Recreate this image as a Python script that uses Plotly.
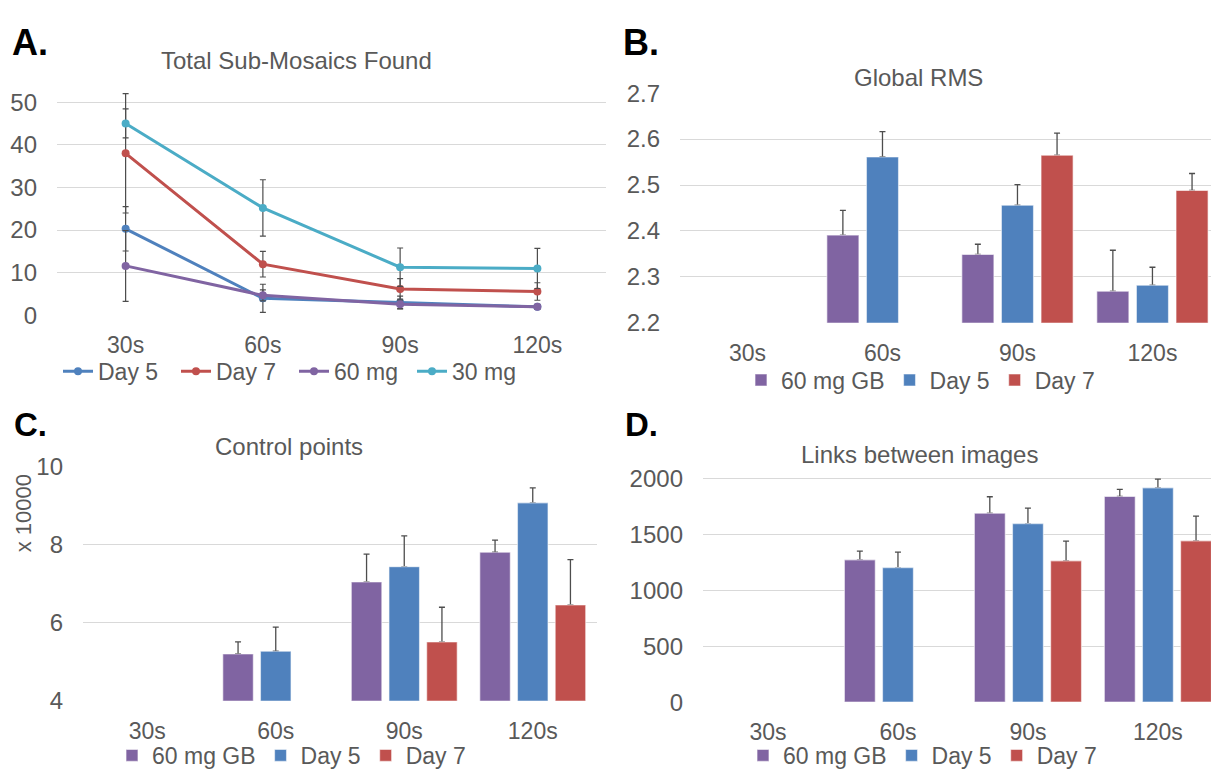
import plotly.graph_objects as go

categories = ["30s", "60s", "90s", "120s"]

# Panel A: Total Sub-Mosaics Found (lines)
a_day5 = [20.3, 4.0, 3.0, 2.0]
a_day5_err = [5.2, 3.3, 1.5, 0.5]
a_day7 = [38.0, 12.0, 6.2, 5.6]
a_day7_err = [14.0, 3.0, 2.4, 2.05]
a_60mg = [11.6, 4.7, 2.6, 2.0]
a_60mg_err = [8.3, 1.3, 1.0, 0.5]
a_30mg = [45.0, 25.2, 11.3, 11.0]
a_30mg_err = [3.4, 6.6, 4.5, 4.7]

# Panel B: Global RMS
b_60mg = [0, 2.391, 2.349, 2.269]
b_60mg_err = [None, 0.054, 0.022, 0.089]
b_day5 = [0, 2.561, 2.456, 2.282]
b_day5_err = [None, 0.055, 0.045, 0.039]
b_day7 = [0, 0, 2.565, 2.488]
b_day7_err = [None, None, 0.048, 0.037]

# Panel C: Control points (x 10000)
c_60mg = [0, 5.20, 7.05, 7.81]
c_60mg_err = [None, 0.31, 0.71, 0.31]
c_day5 = [0, 5.27, 7.44, 9.08]
c_day5_err = [None, 0.62, 0.79, 0.38]
c_day7 = [0, 0, 5.51, 6.46]
c_day7_err = [None, None, 0.89, 1.16]

# Panel D: Links between images (no data at 30s, none for Day 7 at 60s)
d_60mg = [None, 1274, 1692, 1841]
d_60mg_err = [None, 78, 147, 63]
d_day5 = [None, 1205, 1599, 1919]
d_day5_err = [None, 138, 138, 78]
d_day7 = [None, None, 1265, 1444]
d_day7_err = [None, None, 176, 222]

# The page body has an 8px margin; lay the figure out so it lands on the window.
OFF = 8
W, H = 1219 - OFF, 782 - OFF
FONT = "Liberation Sans, Arial, sans-serif"
TXT = "#595959"
GRID = "#D9D9D9"
ERR = "#4D4D4D"

C_BLUE = "#4F81BD"
C_RED = "#C0504D"
C_PURPLE = "#8064A2"
C_CYAN = "#4BACC6"


def fx(p):
    return (p - OFF) / W


def fy(p):
    return 1 - (p - OFF) / H


fig = go.Figure()

# ---- Panel A lines
for name, vals, err, col in [
    ("Day 5", a_day5, a_day5_err, C_BLUE),
    ("Day 7", a_day7, a_day7_err, C_RED),
    ("60 mg", a_60mg, a_60mg_err, C_PURPLE),
    ("30 mg", a_30mg, a_30mg_err, C_CYAN),
]:
    fig.add_trace(go.Scatter(
        x=categories, y=vals, name=name, mode="lines+markers",
        line=dict(color=col, width=3), marker=dict(color=col, size=8),
        error_y=dict(type="data", array=err, visible=True, color=ERR,
                     thickness=1.2, width=3),
        xaxis="x", yaxis="y", legend="legend", cliponaxis=False,
    ))


def add_bars(vals_list, xa, ya, leg):
    for name, vals, err, col in vals_list:
        # invisible carrier holding the "plus" error bar; the coloured bar of the
        # same offset group is drawn over it so the lower cap is hidden
        fig.add_trace(go.Bar(
            x=categories, y=vals, name=name, showlegend=False, hoverinfo="skip",
            marker=dict(color="rgba(0,0,0,0)", line=dict(width=0)),
            error_y=dict(type="data", symmetric=False, array=err,
                         arrayminus=[0 if e is not None else None for e in err],
                         visible=True, color=ERR, thickness=1.3, width=3),
            xaxis=xa, yaxis=ya, legend=leg, offsetgroup=name,
        ))
    for name, vals, err, col in vals_list:
        fig.add_trace(go.Bar(
            x=categories, y=vals, name=name,
            marker=dict(color=col, line=dict(color="rgba(255,255,255,0.55)", width=1.2)),
            xaxis=xa, yaxis=ya, legend=leg, offsetgroup=name,
        ))


add_bars([("60 mg GB", b_60mg, b_60mg_err, C_PURPLE),
          ("Day 5", b_day5, b_day5_err, C_BLUE),
          ("Day 7", b_day7, b_day7_err, C_RED)], "x2", "y2", "legend2")
add_bars([("60 mg GB", c_60mg, c_60mg_err, C_PURPLE),
          ("Day 5", c_day5, c_day5_err, C_BLUE),
          ("Day 7", c_day7, c_day7_err, C_RED)], "x3", "y3", "legend3")
add_bars([("60 mg GB", d_60mg, d_60mg_err, C_PURPLE),
          ("Day 5", d_day5, d_day5_err, C_BLUE),
          ("Day 7", d_day7, d_day7_err, C_RED)], "x4", "y4", "legend4")

xtickfont = dict(family=FONT, size=23, color=TXT)
ytickfont = dict(family=FONT, size=24, color=TXT)


def xax(l, r, anchor, rng):
    return dict(domain=[fx(l), min(1.0, fx(r))], anchor=anchor, type="category",
                categoryorder="array", categoryarray=categories,
                range=rng, showgrid=False, zeroline=False, showline=False,
                ticks="", tickfont=xtickfont, ticklabelstandoff=14,
                fixedrange=True)


def yax(top, bottom, anchor, rng, tv):
    return dict(domain=[fy(bottom), fy(top)], anchor=anchor, range=rng,
                tickvals=tv, showgrid=True, gridcolor=GRID, gridwidth=1,
                zeroline=False, showline=False, ticks="", tickfont=ytickfont,
                ticklabelstandoff=19, fixedrange=True)


a_unit = (312 - 91) / 50.0
legfont = dict(family=FONT, size=23, color=TXT)
fig.update_layout(
    width=W, height=H,
    margin=dict(l=0, r=0, t=0, b=0),
    paper_bgcolor="white", plot_bgcolor="white",
    barmode="group", bargap=0.12, bargroupgap=0.19,
    font=dict(family=FONT, size=23, color=TXT),
    xaxis=xax(57, 606, "y", [-0.5, 3.5]),
    yaxis=yax(312 - 53 * a_unit, 312, "x", [0, 53], [0, 10, 20, 30, 40, 50]),
    xaxis2=xax(680, 1221, "y2", [-0.5, 3.493]),
    yaxis2=yax(81.7, 319.7, "x2", [2.2, 2.7], [2.2, 2.3, 2.4, 2.5, 2.6, 2.7]),
    xaxis3=xax(83, 597, "y3", [-0.5, 3.5]),
    yaxis3=yax(469, 711.3, "x3", [4, 10], [4, 6, 8, 10]),
    xaxis4=xax(703, 1223, "y4", [-0.5, 3.47]),
    yaxis4=yax(480.1, 712.7, "x4", [0, 2010], [0, 500, 1000, 1500, 2000]),
    legend=dict(orientation="h", x=fx(58), y=fy(370), xanchor="left", yanchor="middle",
                font=legfont, entrywidth=73, entrywidthmode="pixels",
                bgcolor="rgba(0,0,0,0)"),
    legend2=dict(orientation="h", x=fx(741), y=fy(379), xanchor="left", yanchor="middle",
                 font=legfont, bgcolor="rgba(0,0,0,0)"),
    legend3=dict(orientation="h", x=fx(112), y=fy(768), xanchor="left", yanchor="middle",
                 font=legfont, bgcolor="rgba(0,0,0,0)"),
    legend4=dict(orientation="h", x=fx(743), y=fy(768), xanchor="left", yanchor="middle",
                 font=legfont, bgcolor="rgba(0,0,0,0)"),
    showlegend=True,
)

ann = []
for txt, x, y, size in [("A.", 30, 29, 36), ("B.", 641, 29, 36),
                        ("C.", 30, 425, 33), ("D.", 641, 425, 33)]:
    ann.append(dict(text="<b>%s</b>" % txt, x=fx(x), y=fy(y), xref="paper", yref="paper",
                    showarrow=False, xanchor="center", yanchor="middle",
                    font=dict(family=FONT, size=size, color="black")))
for txt, x, y in [("Total Sub-Mosaics Found", 296, 48), ("Global RMS", 918, 66),
                  ("Control points", 289, 448), ("Links between images", 919, 456)]:
    ann.append(dict(text=txt, x=fx(x), y=fy(y), xref="paper", yref="paper",
                    showarrow=False, xanchor="center", yanchor="middle",
                    font=dict(family=FONT, size=24, color=TXT)))
ann.append(dict(text="x 10000", x=fx(23), y=fy(517), xref="paper", yref="paper",
                showarrow=False, textangle=-90, xanchor="center", yanchor="middle",
                font=dict(family=FONT, size=22, color=TXT)))
fig.update_layout(annotations=ann)

fig.write_html("out.html")
